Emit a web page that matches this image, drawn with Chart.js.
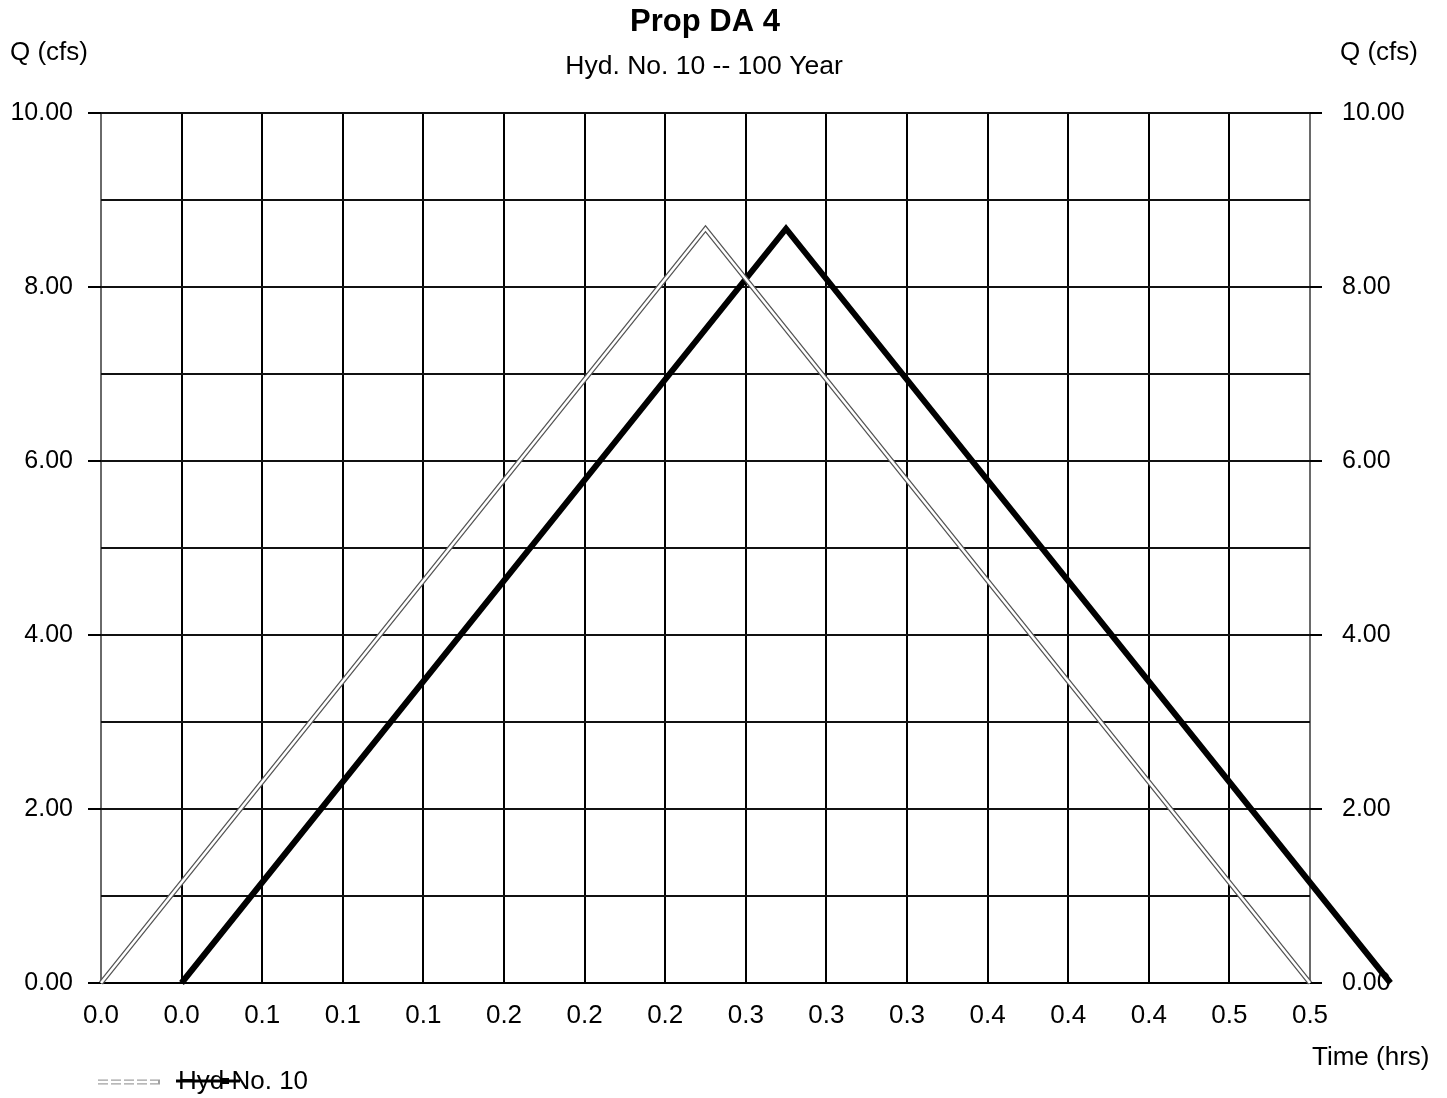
<!DOCTYPE html>
<html>
<head>
<meta charset="utf-8">
<title>Prop DA 4</title>
<script src="https://cdn.jsdelivr.net/npm/chart.js@4/dist/chart.umd.min.js"></script>
<style>
  html, body { margin: 0; padding: 0; background: #ffffff; }
  canvas { display: block; }
</style>
</head>
<body>
<canvas id="hydro" width="1447" height="1098"></canvas>
<script>
// Hydrograph data: Hyd. No. 10, 100-year storm
const chartTitle = 'Prop DA 4';
const chartSubtitle = 'Hyd. No. 10 -- 100 Year';
const seriesName = 'Hyd No. 10';

// Inflow (double-outlined line), time in hours / flow in cfs
const inflowTime = [0.0, 0.25, 0.50];
const inflowQ = [0.00, 8.67, 0.00];

// Routed hydrograph (heavy black line), lagged by 2 minutes
const outflowTime = [0.0333, 0.2833, 0.5333];
const outflowQ = [0.00, 8.67, 0.00];

// Axis ticks
const xTickMinutes = [0, 2, 4, 6, 8, 10, 12, 14, 16, 18, 20, 22, 24, 26, 28, 30];
const xTickLabels = ['0.0', '0.0', '0.1', '0.1', '0.1', '0.2', '0.2', '0.2', '0.3', '0.3', '0.3', '0.4', '0.4', '0.4', '0.5', '0.5'];
const yGridValues = [0, 1, 2, 3, 4, 5, 6, 7, 8, 9, 10];
const yLabelValues = [0, 2, 4, 6, 8, 10];
const yTickLabels = ['0.00', '2.00', '4.00', '6.00', '8.00', '10.00'];

const FONT = '"Liberation Sans", Arial, Helvetica, sans-serif';

const toPoints = (xs, ys) => xs.map((x, i) => ({ x: x, y: ys[i] }));
const inflowPts = toPoints(inflowTime, inflowQ);
const outflowPts = toPoints(outflowTime, outflowQ);

function yLabel(value) {
  const i = yLabelValues.indexOf(value);
  return i >= 0 ? yTickLabels[i] : '';
}

const yTickColor = ctx => (ctx.tick && yLabelValues.includes(ctx.tick.value)) ? '#000' : 'rgba(0,0,0,0)';

// Titles, axis captions and the legend strip
const decorations = {
  id: 'decorations',
  afterDraw(chart) {
    const c = chart.ctx;
    c.save();
    c.fillStyle = '#000';
    c.textBaseline = 'middle';

    c.textAlign = 'center';
    c.font = 'bold 31px ' + FONT;
    c.fillText(chartTitle, 705, 22);
    c.font = '26.5px ' + FONT;
    c.fillText(chartSubtitle, 704, 67);

    c.textAlign = 'left';
    c.font = '26px ' + FONT;
    c.fillText('Q (cfs)', 10, 53);
    c.fillText('Q (cfs)', 1340, 53);
    c.fillText('Time (hrs)', 1312, 1058);

    // legend: outlined swatch, label, heavy swatch across the label
    const ly = 1082;
    c.lineCap = 'butt';
    c.strokeStyle = '#a0a0a0';
    c.lineWidth = 5;
    c.setLineDash([10, 3]);
    c.beginPath(); c.moveTo(98, ly); c.lineTo(160, ly); c.stroke();
    c.setLineDash([]);
    c.strokeStyle = '#ffffff';
    c.lineWidth = 2.5;
    c.beginPath(); c.moveTo(98, ly); c.lineTo(158, ly); c.stroke();

    c.fillStyle = '#000';
    c.font = '26px ' + FONT;
    c.fillText(seriesName, 178, ly);
    c.strokeStyle = '#000';
    c.lineWidth = 3;
    c.beginPath(); c.moveTo(176, ly - 1); c.lineTo(240, ly - 1); c.stroke();
    c.fillRect(221, ly - 4, 8, 6);
    c.restore();
  }
};

new Chart(document.getElementById('hydro'), {
  type: 'line',
  data: {
    datasets: [
      {
        label: seriesName + ' inflow core',
        data: inflowPts,
        borderColor: '#ffffff',
        borderWidth: 2.5,
        pointRadius: 0,
        borderJoinStyle: 'miter',
        clip: false
      },
      {
        label: seriesName + ' inflow',
        data: inflowPts,
        borderColor: '#555555',
        borderWidth: 5,
        pointRadius: 0,
        borderJoinStyle: 'miter',
        clip: false
      },
      {
        label: seriesName,
        data: outflowPts,
        borderColor: '#000000',
        borderWidth: 6,
        pointRadius: 0,
        borderJoinStyle: 'miter',
        clip: false
      }
    ]
  },
  options: {
    responsive: false,
    animation: false,
    events: [],
    layout: { padding: { top: 113, left: 0, right: 0, bottom: 0 } },
    plugins: {
      legend: { display: false },
      tooltip: { enabled: false },
      title: { display: false }
    },
    scales: {
      x: {
        type: 'linear',
        position: 'bottom',
        min: 0,
        max: 0.5,
        afterBuildTicks: s => { s.ticks = xTickMinutes.map(m => ({ value: m / 60 })); },
        afterFit: s => { s.height = 115; },
        grid: {
          color: ctx => (ctx.index === 0 || ctx.index === xTickMinutes.length - 1) ? '#6a6a6a' : '#000',
          lineWidth: 2,
          drawTicks: false
        },
        border: { display: true, color: '#000', width: 2 },
        ticks: {
          autoSkip: false,
          maxRotation: 0,
          padding: 17,
          color: '#000',
          font: { family: FONT, size: 26 },
          callback: (v, i) => xTickLabels[i]
        }
      },
      y: {
        type: 'linear',
        position: 'left',
        min: 0,
        max: 10,
        afterBuildTicks: s => { s.ticks = yGridValues.map(v => ({ value: v })); },
        afterFit: s => { s.width = 101; },
        grid: {
          color: '#111',
          lineWidth: 2,
          tickLength: 13,
          tickColor: yTickColor,
          tickWidth: 2
        },
        border: { display: false },
        ticks: {
          autoSkip: false,
          padding: 15,
          color: '#000',
          font: { family: FONT, size: 25 },
          callback: v => yLabel(v)
        }
      },
      y2: {
        type: 'linear',
        position: 'right',
        min: 0,
        max: 10,
        afterBuildTicks: s => { s.ticks = yGridValues.map(v => ({ value: v })); },
        afterFit: s => { s.width = 137; },
        grid: {
          drawOnChartArea: false,
          lineWidth: 2,
          tickLength: 12,
          tickColor: yTickColor,
          tickWidth: 2
        },
        border: { display: false },
        ticks: {
          autoSkip: false,
          padding: 20,
          color: '#000',
          font: { family: FONT, size: 25 },
          callback: v => yLabel(v)
        }
      }
    }
  },
  plugins: [decorations]
});
</script>
</body>
</html>
